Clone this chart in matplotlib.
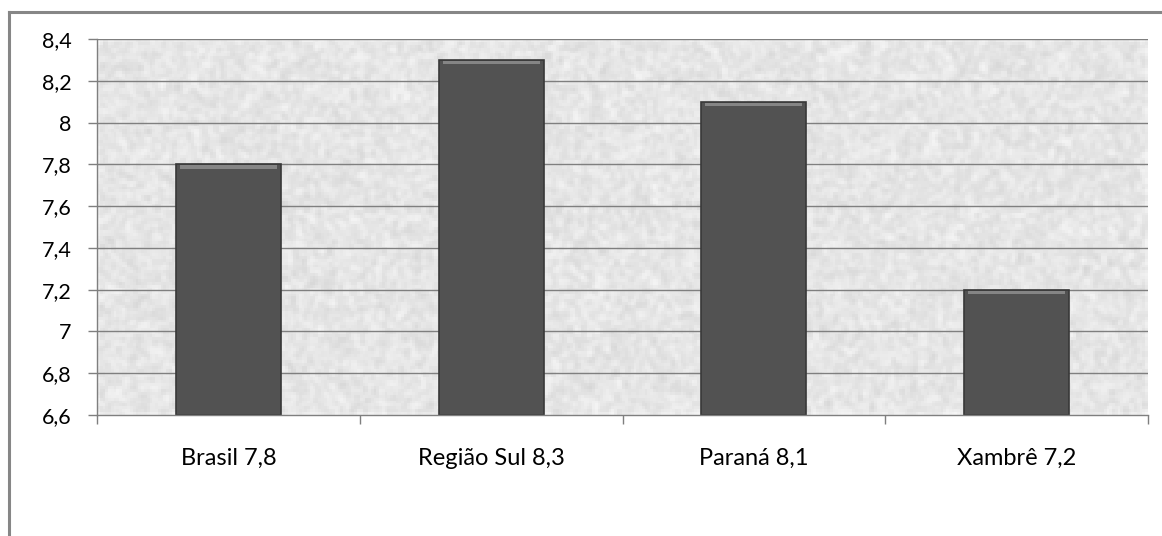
import numpy as np
import matplotlib
matplotlib.use('Agg')
import matplotlib.pyplot as plt
from matplotlib.lines import Line2D
from matplotlib.ticker import FuncFormatter

# data
categories = ['Brasil 7,8', 'Região Sul 8,3', 'Paraná 8,1', 'Xambrê 7,2']
values = [7.8, 8.3, 8.1, 7.2]
y_ticks = [6.6, 6.8, 7.0, 7.2, 7.4, 7.6, 7.8, 8.0, 8.2, 8.4]

plt.rcParams['font.family'] = ['Lato', 'DejaVu Sans']

fig = plt.figure(figsize=(11.62, 5.36), dpi=100)
ax = fig.add_axes([97/1162, 121/536, 1051/1162, 376/536])

# light grey "paper" texture behind the plot area
rng = np.random.default_rng(3)
noise = rng.random((130, 380))
k = np.array([0.25, 0.5, 0.25])
noise = np.apply_along_axis(lambda r: np.convolve(r, k, mode='same'), 1, noise)
noise = np.apply_along_axis(lambda c: np.convolve(c, k, mode='same'), 0, noise)
tex = 0.97 - 0.13 * (noise - noise.min()) / (noise.max() - noise.min())
ax.imshow(tex, cmap='gray', vmin=0, vmax=1, aspect='auto',
          extent=[0, 1, 0, 1], transform=ax.transAxes, zorder=0,
          interpolation='nearest')

x = np.arange(len(categories))
ymin, ymax = y_ticks[0], y_ticks[-1]

for yt in y_ticks[1:]:
    ax.axhline(yt, color='#7f7f7f', lw=1.0, zorder=1)

ax.bar(x, [v - ymin for v in values], bottom=ymin, width=0.4,
       color='#525252', edgecolor='#383838', linewidth=1.2, zorder=2)
# bevel highlight on top of each bar
ax.bar(x, [0.016] * len(values), bottom=[v - 0.02 for v in values], width=0.37,
       color='#858585', linewidth=0, zorder=3)

ax.set_xlim(-0.5, len(categories) - 0.5)
ax.set_ylim(ymin, ymax)
ax.set_yticks(y_ticks)
ax.yaxis.set_major_formatter(FuncFormatter(lambda v, p: ('%g' % round(v, 1)).replace('.', ',')))
ax.set_xticks(x)
ax.set_xticklabels(categories)
ax.set_xticks(np.arange(len(categories) + 1) - 0.5, minor=True)

ax.tick_params(axis='y', length=6.5, width=1, color='#7f7f7f', pad=12,
               labelsize=15.5, labelcolor='#000000')
ax.tick_params(axis='x', which='major', length=0, pad=24, labelsize=17)
ax.tick_params(axis='x', which='minor', length=6.5, width=1, color='#7f7f7f')

for s in ['top', 'right']:
    ax.spines[s].set_visible(False)
for s in ['left', 'bottom']:
    ax.spines[s].set_color('#7f7f7f')
    ax.spines[s].set_linewidth(1.0)
    ax.spines[s].set_zorder(4)

# outer chart frame (top and left edges visible)
fig.add_artist(Line2D([9/1162, 1.0], [1 - 12/536, 1 - 12/536],
                      transform=fig.transFigure, color='#868686', lw=2.2))
fig.add_artist(Line2D([9/1162, 9/1162], [0.0, 1 - 12/536],
                      transform=fig.transFigure, color='#868686', lw=2.2))

fig.savefig('out.png', dpi=100)
